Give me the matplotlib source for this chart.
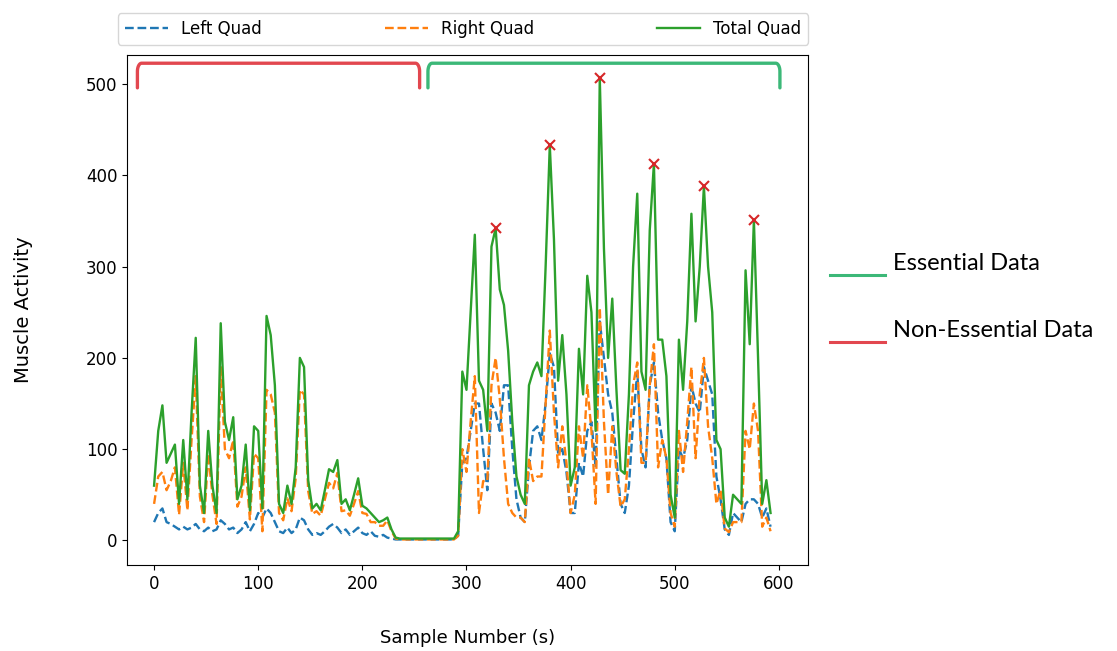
import numpy as np
import matplotlib
matplotlib.use("Agg")
import matplotlib.pyplot as plt
from matplotlib.lines import Line2D

# quad EMG envelope, one value every 4 samples
samples = np.arange(0, 593, 4)

left_quad = [
    20, 30, 35, 20, 18, 15, 12, 15, 12, 14,
    18, 12, 10, 14, 10, 12, 22, 18, 12, 14,
    8, 12, 20, 10, 18, 30, 25, 35, 30, 20,
    10, 8, 14, 8, 12, 25, 22, 12, 6, 8,
    6, 10, 15, 18, 14, 8, 12, 6, 10, 14,
    8, 6, 10, 5, 4, 6, 3, 2, 1, 1,
    1, 1, 1, 1, 1, 1, 1, 1, 1, 1,
    1, 1, 1, 5, 85, 90, 120, 150, 150, 100,
    55, 150, 140, 120, 170, 170, 100, 45, 25, 20,
    80, 120, 125, 110, 150, 205, 190, 95, 100, 75,
    30, 30, 85, 70, 120, 130, 80, 240, 200, 160,
    140, 90, 40, 30, 60, 130, 185, 100, 80, 170,
    195, 140, 110, 90, 20, 10, 100, 90, 110, 170,
    150, 140, 190, 175, 160, 70, 45, 12, 6, 30,
    25, 20, 40, 45, 45, 40, 25, 35, 15,
]

right_quad = [
    40, 70, 75, 55, 65, 80, 28, 85, 33, 110,
    180, 48, 20, 95, 50, 18, 190, 100, 90, 110,
    37, 48, 80, 23, 95, 90, 10, 165, 160, 140,
    30, 22, 46, 32, 68, 165, 160, 54, 29, 32,
    27, 45, 63, 57, 74, 32, 33, 27, 40, 54,
    30, 29, 20, 20, 16, 16, 22, 10, 2, 1,
    1, 1, 1, 1, 1, 1, 1, 1, 1, 1,
    1, 1, 1, 5, 100, 75, 130, 180, 30, 65,
    65, 170, 200, 155, 90, 40, 30, 25, 25, 20,
    90, 65, 70, 70, 150, 230, 140, 80, 125, 85,
    30, 50, 125, 90, 170, 120, 40, 255, 130, 50,
    125, 75, 37, 45, 100, 170, 195, 85, 85, 170,
    215, 80, 110, 90, 30, 15, 120, 75, 130, 190,
    90, 160, 200, 125, 90, 40, 55, 13, 9, 20,
    20, 20, 120, 100, 150, 120, 15, 25, 10,
]

total_quad = [
    60, 120, 148, 85, 95, 105, 40, 110, 45, 140,
    222, 60, 30, 120, 60, 30, 238, 130, 110, 135,
    45, 60, 105, 33, 125, 120, 35, 246, 225, 170,
    40, 30, 60, 40, 80, 200, 190, 66, 35, 40,
    33, 55, 78, 75, 88, 40, 45, 33, 50, 68,
    38, 35, 30, 25, 20, 22, 25, 12, 3, 2,
    2, 2, 2, 2, 2, 2, 2, 2, 2, 2,
    2, 2, 2, 10, 185, 165, 250, 335, 175, 165,
    120, 322, 342, 275, 258, 208, 130, 70, 50, 40,
    170, 185, 195, 180, 300, 433, 330, 175, 225, 160,
    60, 80, 210, 160, 290, 250, 120, 507, 320, 200,
    265, 165, 77, 73, 160, 300, 380, 185, 165, 340,
    413, 220, 220, 180, 50, 25, 220, 165, 240, 358,
    240, 300, 388, 300, 250, 110, 100, 25, 15, 50,
    45, 40, 296, 215, 351, 200, 40, 66, 30,
]

# detected squat peaks (sample numbers)
peak_samples = [328, 380, 428, 480, 528, 576]

# segment spans for the brackets
non_essential_span = (-16, 255)
essential_span = (263, 601)

GREEN = "#3cb878"
RED = "#e2474f"


def bracket(ax, x0, x1, color, y_top=523, y_foot=496, rx=4.0, ry=9.0):
    t = np.linspace(0, np.pi / 2, 12)
    lx = x0 + rx - rx * np.cos(t)
    ly = y_top - ry + ry * np.sin(t)
    rxs = x1 - rx + rx * np.sin(t)
    rys = y_top - ry + ry * np.cos(t)
    xs = np.concatenate([[x0], lx, rxs, [x1]])
    ys = np.concatenate([[y_foot], ly, rys, [y_foot]])
    ax.plot(xs, ys, color=color, lw=2.4, solid_capstyle="round")


fig = plt.figure(figsize=(11.17, 6.51), dpi=100)
ax = fig.add_axes([0.1137, 0.1321, 0.6097, 0.7834])

x = samples
left = np.array(left_quad)
right = np.array(right_quad)
total = np.array(total_quad)

ax.plot(x, left, "--", color="C0", lw=1.7, label="Left Quad")
ax.plot(x, right, "--", color="C1", lw=1.7, label="Right Quad")
ax.plot(x, total, "-", color="C2", lw=1.7, label="Total Quad")

idx = [int(np.where(x == p)[0][0]) for p in peak_samples]
ax.plot(x[idx], total[idx], "x", color="C3", ms=7, mew=1.5)

bracket(ax, *non_essential_span, RED)
bracket(ax, *essential_span, GREEN)

ax.set_xlim(-26, 628)
ax.set_ylim(-27, 532)
ax.set_xticks([0, 100, 200, 300, 400, 500, 600])
ax.set_yticks([0, 100, 200, 300, 400, 500])
ax.tick_params(labelsize=12)

ax.set_xlabel("Sample Number (s)", fontsize=13, labelpad=26)
ax.set_ylabel("Muscle Activity", fontsize=14, labelpad=38)

ax.legend(loc="lower left", bbox_to_anchor=(-0.013, 1.02, 1.013, 0.074),
          mode="expand", ncol=3, borderaxespad=0, fontsize=12,
          handlelength=2.6)

# side key for the brackets
fig.add_artist(Line2D([0.743, 0.792], [0.577, 0.577], color=GREEN, lw=2.2,
                      transform=fig.transFigure))
fig.add_artist(Line2D([0.743, 0.792], [0.475, 0.475], color=RED, lw=2.2,
                      transform=fig.transFigure))
fig.text(0.7995, 0.596, "Essential Data", fontsize=17, family="Lato",
         va="center", ha="left")
fig.text(0.7995, 0.493, "Non-Essential Data", fontsize=17, family="Lato",
         va="center", ha="left")

fig.savefig("out.png", dpi=100)
